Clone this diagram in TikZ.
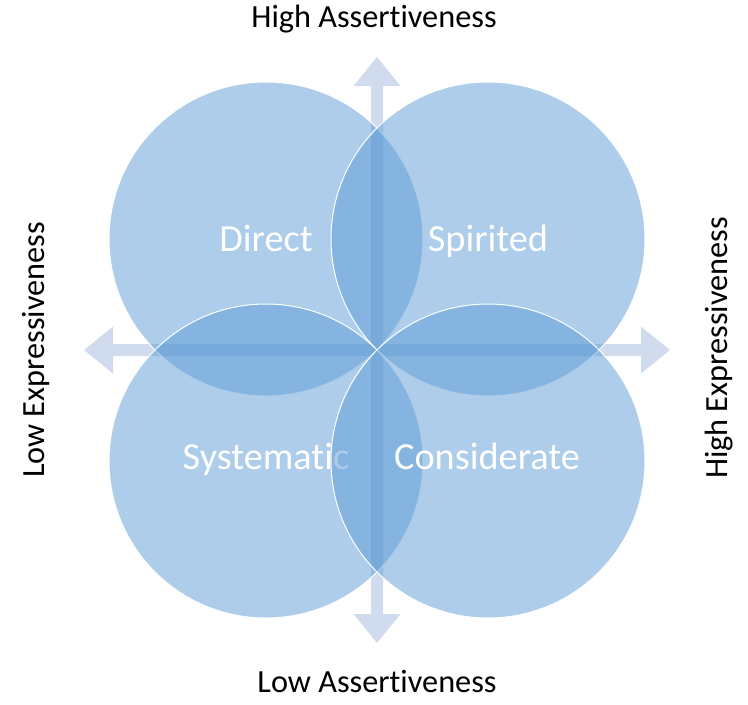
\documentclass[tikz,border=0pt]{standalone}
\usepackage{fontspec}
\setmainfont[Ligatures={NoCommon}]{Carlito}
\begin{document}
\begin{tikzpicture}[x=1pt,y=-1pt,
  axisfill/.style={fill=axisblue,draw=none},
  quadfill/.style={fill=quadblue,fill opacity=0.5},
  quadedge/.style={draw=white,line width=1pt},
  quadlabel/.style={text=white,font=\fontsize{38.3}{46}\selectfont,anchor=base,inner sep=0pt},
  axislabel/.style={text=black,font=\fontsize{32.3}{39}\selectfont,anchor=base,inner sep=0pt}]
\definecolor{axisblue}{RGB}{208,220,238}
\definecolor{quadblue}{RGB}{91,155,213}
\useasboundingbox (0,0) rectangle (748,705);
\coordinate (O) at (377,350);
% cross-shaped double arrow behind the circles
\fill[axisfill] (O)
  ++(-6,-264) -- ++(-17.5,0) -- ++(23.5,-29) -- ++(23.5,29) -- ++(-17.5,0)
  -- ++(0,258) -- ++(258,0) -- ++(0,-17.5) -- ++(29,23.5) -- ++(-29,23.5) -- ++(0,-17.5)
  -- ++(-258,0) -- ++(0,258) -- ++(17.5,0) -- ++(-23.5,29) -- ++(-23.5,-29) -- ++(17.5,0)
  -- ++(0,-258) -- ++(-258,0) -- ++(0,17.5) -- ++(-29,-23.5) -- ++(29,-23.5) -- ++(0,17.5)
  -- ++(258,0) -- cycle;
% four overlapping quadrants, each label drawn just after its circle
\coordinate (cD) at (266,239);
\coordinate (cS) at (488,239);
\coordinate (cY) at (266,461);
\coordinate (cC) at (488,461);
\fill[quadfill] (cD) circle[radius=157];
\draw[quadedge] (cD) circle[radius=157];
\node[quadlabel] (direct) at (266,251) {Direct};
\fill[quadfill] (cS) circle[radius=157];
\draw[quadedge] (cS) circle[radius=157];
\node[quadlabel] (spirited) at (488,251) {Spirited};
\fill[quadfill] (cY) circle[radius=157];
\draw[quadedge] (cY) circle[radius=157];
\node[quadlabel] (systematic) at (266,469) {Systematic};
\fill[quadfill] (cC) circle[radius=157];
\draw[quadedge] (cC) circle[radius=157];
\node[quadlabel] (considerate) at (487,469) {Considerate};
% axis labels
\node[axislabel] (highA) at (374,27) {High Assertiveness};
\node[axislabel] (lowA) at (377,692) {Low Assertiveness};
\node[axislabel,rotate=90] (lowE) at (45,350) {Low Expressiveness};
\node[axislabel,rotate=90] (highE) at (727,348) {High Expressiveness};
\end{tikzpicture}
\end{document}
